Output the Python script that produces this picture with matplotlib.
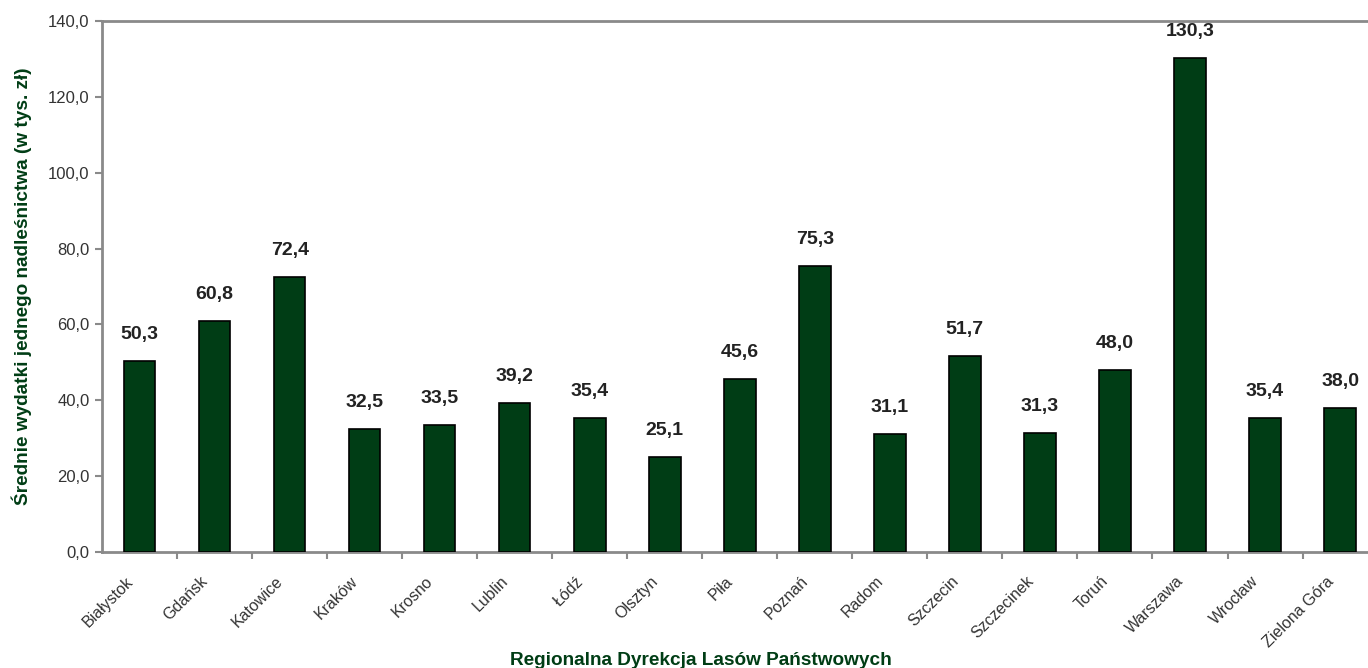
import matplotlib.pyplot as plt
from matplotlib.ticker import FuncFormatter, FixedLocator
from matplotlib.transforms import ScaledTranslation

plt.rcParams['font.family'] = ['Liberation Sans', 'DejaVu Sans']

# Dane
regiony = ["Białystok", "Gdańsk", "Katowice", "Kraków", "Krosno", "Lublin", "Łódź",
           "Olsztyn", "Piła", "Poznań", "Radom", "Szczecin", "Szczecinek", "Toruń",
           "Warszawa", "Wrocław", "Zielona Góra"]
wydatki = [50.3, 60.8, 72.4, 32.5, 33.5, 39.2, 35.4, 25.1, 45.6, 75.3, 31.1, 51.7,
           31.3, 48.0, 130.3, 35.4, 38.0]

zielony = "#003d15"
szary = "#8a8a8a"
tekst = "#333333"

fig = plt.figure(figsize=(13.68, 6.68), dpi=100)
ax = fig.add_axes([0.0746, 0.1737, 0.9324, 0.795])

x = list(range(len(regiony)))
ax.bar(x, wydatki, width=0.42, color=zielony, edgecolor="black", linewidth=1.2, zorder=3)

for xi, v in zip(x, wydatki):
    ax.annotate(f"{v:.1f}".replace(".", ","), (xi, v), xytext=(0, 13),
                textcoords="offset points", ha="center", va="bottom",
                fontsize=14, fontweight="bold", color="#222222")

ax.set_xlim(-0.5, len(regiony) - 0.5)
ax.set_ylim(0, 140)
ax.set_yticks(range(0, 141, 20))
ax.yaxis.set_major_formatter(FuncFormatter(lambda v, p: f"{v:.1f}".replace(".", ",")))

# etykiety kategorii (obrócone, przesunięte w lewo jak w oryginale)
ax.set_xticks(x)
ax.set_xticklabels([])
ax.tick_params(axis="x", which="major", length=0)
przesun = ax.get_xaxis_transform() + ScaledTranslation(-9 / 100, -27 / 100, fig.dpi_scale_trans)
for xi, nazwa in zip(x, regiony):
    ax.text(xi, 0, nazwa, transform=przesun, rotation=45, ha="right", va="center",
            rotation_mode="anchor", fontsize=11.5, color=tekst, clip_on=False)

ax.xaxis.set_minor_locator(FixedLocator([i + 0.5 for i in range(len(regiony))]))
ax.tick_params(axis="x", which="minor", length=5, width=1.5, color=szary, direction="out")
ax.tick_params(axis="y", length=5, width=1.5, color=szary, direction="out",
               labelsize=12, labelcolor=tekst, pad=4)

for s in ["left", "bottom", "top", "right"]:
    ax.spines[s].set_color(szary)
    ax.spines[s].set_linewidth(2)

ax.set_ylabel("Średnie wydatki jednego nadleśnictwa (w tys. zł)", fontsize=13.7,
              fontweight="bold", color=zielony)
ax.yaxis.set_label_coords(-0.055, 0.5)
fig.text(0.512, 0.004, "Regionalna Dyrekcja Lasów Państwowych", ha="center", va="baseline",
         fontsize=13.7, fontweight="bold", color=zielony)

plt.savefig("out.png")
plt.close()
